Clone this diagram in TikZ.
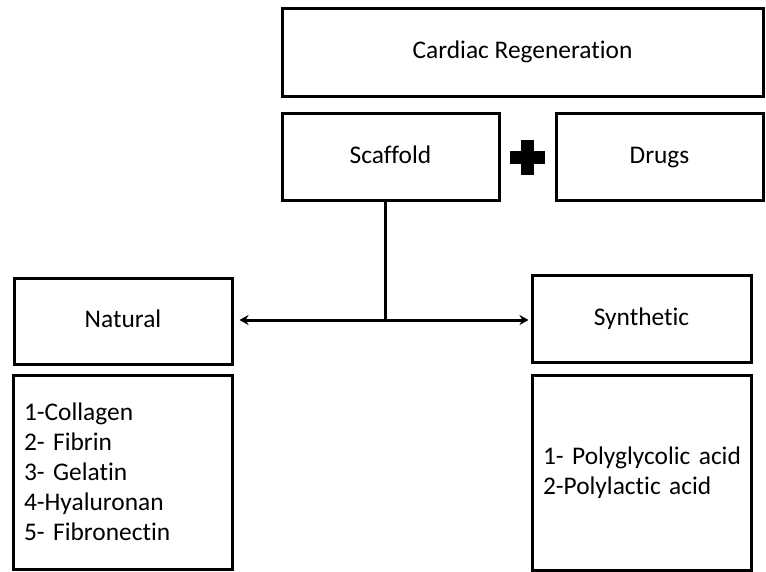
\documentclass[tikz,border=0pt]{standalone}
\usepackage{fontspec}
\setmainfont{Carlito}[Ligatures=NoCommon]
\usetikzlibrary{arrows.meta}
\begin{document}
\begin{tikzpicture}[x=1pt,y=-1pt,
  box/.style={draw=black, line width=3pt, rectangle, inner sep=0pt,
    text height=18pt, text depth=5pt,
    font=\fontsize{25.4}{30}\selectfont},
  listbox/.style={draw=black, line width=3pt, rectangle, inner xsep=11pt, inner ysep=0pt,
    align=left, font=\fontsize{25.4}{30}\selectfont},
  conn/.style={line width=3pt, draw=black}
]
\useasboundingbox (0,0) rectangle (766,571);
\node[box, minimum width=481pt, minimum height=88pt] (cardiac) at (522.5,52) {Cardiac Regeneration};
\node[box, minimum width=217pt, minimum height=87pt] (scaf) at (390.5,156.5) {Scaffold};
\node[box, minimum width=207pt, minimum height=87pt] (drugs) at (659.5,156.5) {Drugs};
\node[box, minimum width=218pt, minimum height=86pt] (nat) at (123,321) {Natural};
\node[box, minimum width=219pt, minimum height=87pt] (syn) at (641.5,318.5) {Synthetic};
\node[listbox, text width=197pt, minimum height=194pt] (natlist) at (122.5,472)
  {\mbox{1-Collagen}\\\mbox{2- Fibrin}\\\mbox{3- Gelatin}\\\mbox{4-Hyaluronan}\\\mbox{5- Fibronectin}};
\node[listbox, text width=197pt, minimum height=195pt] (synlist) at (641.5,472.5)
  {\mbox{1- Polyglycolic acid}\\\mbox{2-Polylactic acid}};
% plus sign
\fill[black] (520.5,139.5) rectangle (533.5,174.5);
\fill[black] (509.5,150.5) rectangle (544.5,163.5);
% connectors
\coordinate (j) at (385,320);
\draw[conn] (scaf.south -| j) -- (j);
\draw[conn, {Stealth[length=9pt,width=10pt]}-{Stealth[length=9pt,width=10pt]}, shorten <=6pt, shorten >=2pt]
  (nat.east |- j) -- (syn.west |- j);
\end{tikzpicture}
\end{document}
